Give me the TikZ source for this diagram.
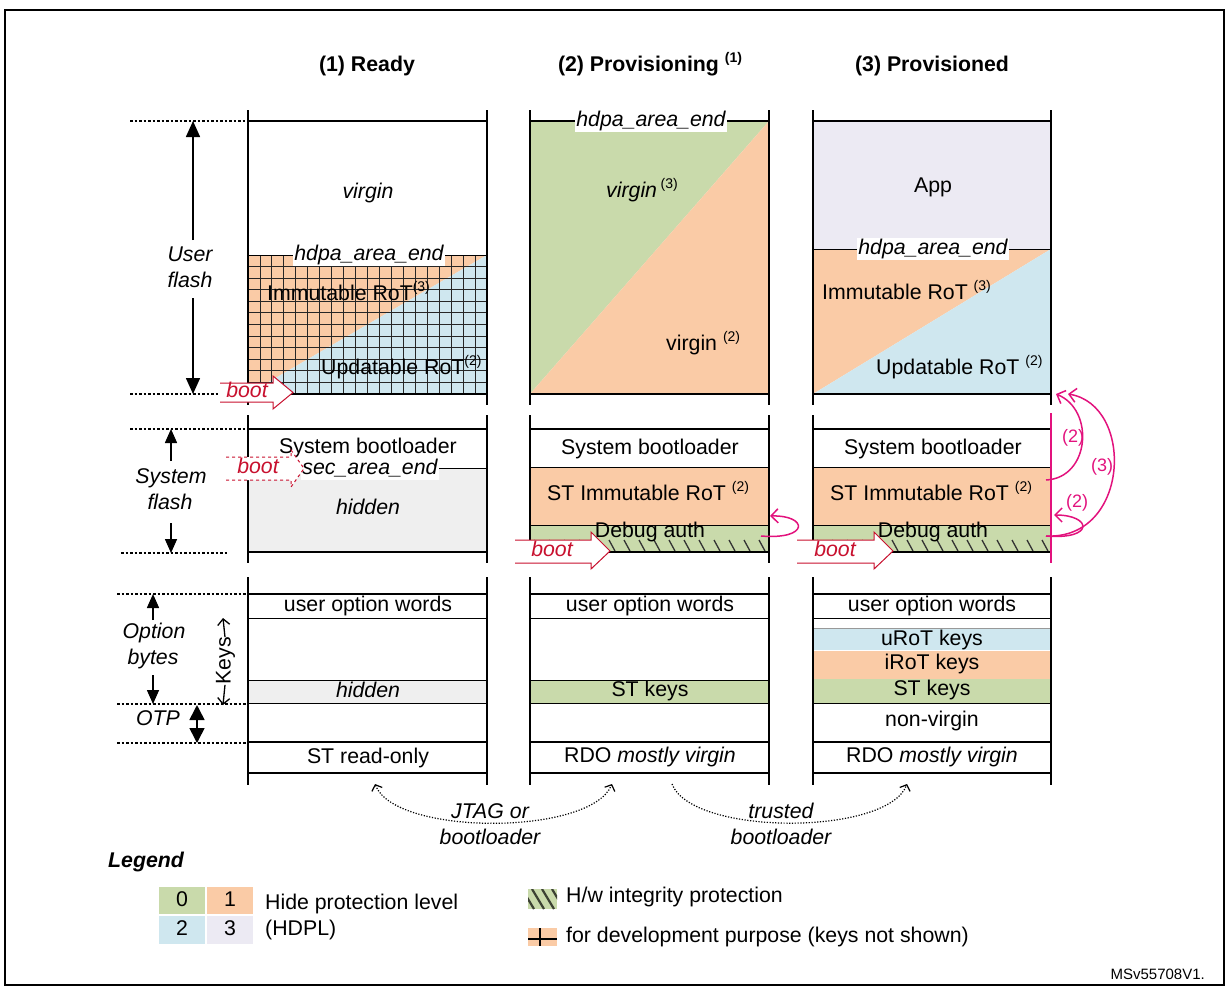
\documentclass[tikz,border=0pt]{standalone}
\usepackage{fontspec}
\setmainfont{Liberation Sans}
\usetikzlibrary{arrows.meta}
\definecolor{cgreen}{RGB}{201,218,171}
\definecolor{corange}{RGB}{250,203,166}
\definecolor{cblue}{RGB}{207,231,239}
\definecolor{clav}{RGB}{236,234,243}
\definecolor{cgray}{RGB}{239,239,239}
\definecolor{cred}{RGB}{200,16,46}
\definecolor{cmag}{RGB}{226,18,125}
\newcommand\supx[1]{\raisebox{0.42em}{\fontsize{14}{14}\upshape\selectfont #1}}
\begin{document}
\begin{tikzpicture}[x=1pt,y=-1pt,
  tx/.style={font=\fontsize{21.3}{25}\selectfont, inner sep=1pt, text height=15pt, text depth=4pt},
  txi/.style={tx, font=\fontsize{21.3}{25}\selectfont\itshape},
  hdr/.style={tx, font=\fontsize{21.3}{25}\selectfont\bfseries},
  whitelbl/.style={txi, fill=white, inner sep=1.5pt},
  bootlbl/.style={txi, text=cred},
  magl/.style={font=\fontsize{18}{20}\selectfont, text=cmag, inner sep=0pt},
  colline/.style={line width=1.8pt},
  secline/.style={line width=1.6pt},
  rowline/.style={line width=0.9pt},
  gridline/.style={line width=0.9pt, black!85},
  dotl/.style={line width=1.3pt, dash pattern=on 2.5pt off 2pt},
  bootarr/.style={draw=cred, fill=white, line width=1pt},
  magarr/.style={draw=cmag, line width=1.5pt, -{Straight Barb[length=7pt,width=14pt]}},
  bigarrow/.style={line width=1.6pt, -{Triangle[length=16pt,width=14pt]}},
  medarrow/.style={line width=1.6pt, -{Triangle[length=14pt,width=12pt]}},
  keyarrow/.style={line width=1.3pt, -{Straight Barb[length=6pt,width=12pt]}},
  transit/.style={line width=1.2pt, dash pattern=on 1.2pt off 1.6pt},
  hatchl/.style={line width=1.3pt, black!80},
]
\useasboundingbox (0,0) rectangle (1227,988);
\draw[line width=1.5pt] (5,10) rectangle (1224,985);

% ---------- headers
\node[hdr] (h1) at (367,66) {(1) Ready};
\node[hdr] (h2) at (650,66) {(2) Provisioning \supx{(1)}};
\node[hdr] (h3) at (932,66) {(3) Provisioned};

% ---------- user flash fills
\fill[corange] (248,255) -- (487,255) -- (248,394) -- cycle;
\fill[cblue] (487,255) -- (487,394) -- (248,394) -- cycle;
\begin{scope}
\clip (248,255) rectangle (487,394);
\foreach \i in {1,...,19} \draw[gridline] ({248+\i*11.95},255) -- ({248+\i*11.95},394);
\foreach \j in {1,...,11} \draw[gridline] (248,{255+\j*11.58}) -- (487,{255+\j*11.58});
\end{scope}
\fill[cgreen] (530,121) -- (769,121) -- (530,394) -- cycle;
\fill[corange] (769,121) -- (769,394) -- (530,394) -- cycle;
\fill[clav] (813,121) rectangle (1051,249);
\fill[corange] (813,249) -- (1051,249) -- (813,394) -- cycle;
\fill[cblue] (1051,249) -- (1051,394) -- (813,394) -- cycle;

% ---------- system flash fills
\fill[cgray] (248,468) rectangle (487,552);
\foreach \L/\R in {530/769,813/1051}{
  \fill[corange] (\L,467) rectangle (\R,525);
  \fill[cgreen] (\L,525) rectangle (\R,552);
  \begin{scope}
  \clip (\L,525) rectangle (\R,552);
  \foreach \k in {0,...,16} \draw[hatchl] ({\L+4+\k*15},540) -- ({\L+10+\k*15},551);
  \end{scope}
}

% ---------- option bytes fills
\fill[cgray] (248,680) rectangle (487,703);
\fill[cgreen] (530,680) rectangle (769,703);
\fill[cblue] (813,628) rectangle (1051,649.5);
\fill[corange] (813,650.5) rectangle (1051,679);
\fill[cgreen] (813,679) rectangle (1051,703);
\draw[line width=0.6pt, black!40] (813,628) -- (1051,628);

% ---------- horizontal lines
\foreach \L/\R in {248/487,530/769,813/1051}{
  \draw[secline] (\L,121) -- (\R,121);
  \draw[secline] (\L,394) -- (\R,394);
  \draw[secline] (\L,429) -- (\R,429);
  \draw[secline] (\L,552) -- (\R,552);
  \draw[secline] (\L,594) -- (\R,594);
  \draw[rowline] (\L,618) -- (\R,618);
  \draw[rowline] (\L,703) -- (\R,703);
  \draw[secline] (\L,742) -- (\R,742);
  \draw[secline] (\L,773) -- (\R,773);
}
\draw[rowline] (248,255) -- (487,255);
\draw[rowline] (813,249) -- (1051,249);
\draw[rowline] (248,468) -- (487,468);
\draw[rowline] (248,680) -- (487,680);
\draw[rowline] (530,680) -- (769,680);
\foreach \L/\R in {530/769,813/1051}{
  \draw[rowline] (\L,467) -- (\R,467);
  \draw[rowline] (\L,525) -- (\R,525);
}

% ---------- vertical column lines
\foreach \L/\R in {248/487,530/769,813/1051}{
  \draw[colline] (\L,110) -- (\L,405);
  \draw[colline] (\R,110) -- (\R,405);
  \draw[colline] (\L,415) -- (\L,563);
  \draw[colline] (\L,577) -- (\L,785);
  \draw[colline] (\R,577) -- (\R,785);
}
\draw[colline] (487,415) -- (487,563);
\draw[colline] (769,415) -- (769,563);
\draw[cmag, line width=1.6pt] (1051,413) -- (1051,563);

% ---------- user flash texts
\node[txi] (c1virgin) at (368,193) {virgin};
\node[whitelbl] (c1hdpa) at (369,255) {hdpa\_area\_end};
\node[tx, anchor=west] (c1irot) at (266,295) {Immutable RoT\supx{(3)}};
\node[tx, anchor=west] (c1urot) at (320,369) {Updatable RoT\supx{(2)}};
\node[whitelbl] (c2hdpa) at (651,121) {hdpa\_area\_end};
\node[txi, anchor=west] (c2v3) at (605,192) {virgin\,\supx{(3)}};
\node[tx, anchor=west] (c2v2) at (665,345) {virgin \supx{(2)}};
\node[tx] (c3app) at (933,187) {App};
\node[whitelbl] (c3hdpa) at (933,249) {hdpa\_area\_end};
\node[tx, anchor=west] (c3irot) at (821,294) {Immutable RoT \supx{(3)}};
\node[tx, anchor=west] (c3urot) at (875,369) {Updatable RoT \supx{(2)}};

% ---------- system flash texts
\node[tx] (c1sb) at (368,448) {System bootloader};
\node[whitelbl] (c1sec) at (370,469) {sec\_area\_end};
\node[txi] (c1hid) at (368,509) {hidden};
\node[tx] (c2sb) at (650,449) {System bootloader};
\node[tx, anchor=west] (c2st) at (546,495) {ST Immutable RoT \supx{(2)}};
\node[tx] (c2dbg) at (650,532) {Debug auth};
\node[tx] (c3sb) at (933,449) {System bootloader};
\node[tx, anchor=west] (c3st) at (829,495) {ST Immutable RoT \supx{(2)}};
\node[tx] (c3dbg) at (933,532) {Debug auth};

% ---------- option bytes texts
\node[tx] (c1uow) at (368,606) {user option words};
\node[txi] (c1hk) at (368,692) {hidden};
\node[tx] (c1ro) at (368,758) {ST read-only};
\node[tx] (c2uow) at (650,606) {user option words};
\node[tx] (c2st2) at (650,691) {ST keys};
\node[tx] (c2rdo) at (650,757) {RDO \textit{mostly virgin}};
\node[tx] (c3uow) at (932,606) {user option words};
\node[tx] (c3u) at (932,640) {uRoT keys};
\node[tx] (c3i) at (932,664) {iRoT keys};
\node[tx] (c3s) at (932,690) {ST keys};
\node[tx] (c3nv) at (932,721) {non-virgin};
\node[tx] (c3rdo) at (932,757) {RDO \textit{mostly virgin}};

% ---------- left annotations
\draw[dotl] (130,121) -- (248,121);
\draw[dotl] (130,394) -- (220,394);
\draw[dotl] (130,429) -- (248,429);
\draw[dotl] (121,553) -- (228,553);
\draw[dotl] (117,594) -- (248,594);
\draw[dotl] (117,704) -- (248,704);
\draw[dotl] (117,743) -- (248,743);
\node[txi] (uf1) at (190,256) {User};
\node[txi] (uf2) at (190,282) {flash};
\draw[bigarrow] (193,240) -- (193,121);
\draw[bigarrow] (193,298) -- (193,394);
\node[txi] (sf1) at (171,478) {System};
\node[txi] (sf2) at (170,504) {flash};
\draw[medarrow] (171,461) -- (171,429);
\draw[medarrow] (171,523) -- (171,553);
\node[txi] (ob1) at (154,633) {Option};
\node[txi] (ob2) at (153,659) {bytes};
\draw[medarrow] (153,620) -- (153,594);
\draw[medarrow] (153,675) -- (153,704);
\node[txi] (otp) at (158,720) {OTP};
\draw[line width=1.6pt, {Triangle[length=15pt,width=15pt]}-{Triangle[length=15pt,width=15pt]}] (197,705) -- (197,743);
\node[tx, rotate=90, inner sep=0pt] (keys) at (225,661) {Keys};
\coordinate (ktop) at (223,618);
\coordinate (kbot) at (223,705);
\draw[keyarrow] (keys.east) -- (ktop);
\draw[keyarrow] (keys.west) -- (kbot);

% ---------- boot arrows
\draw[bootarr] (220,383) -- (273,383) -- (273,376) -- (293,392.5) -- (273,409) -- (273,402) -- (220,402);
\node[bootlbl] (b1) at (247,392) {boot};
\draw[bootarr, dashed] (226,457) -- (291,457) -- (291,450) -- (304,468.5) -- (291,487) -- (291,480) -- (226,480);
\node[bootlbl] (b2) at (258,468) {boot};
\draw[bootarr] (515,540) -- (591,540) -- (591,532) -- (610,551) -- (591,569) -- (591,563) -- (515,563);
\node[bootlbl] (b3) at (552,551) {boot};
\draw[bootarr] (797,540) -- (874,540) -- (874,532) -- (893,551) -- (874,569) -- (874,563) -- (797,563);
\node[bootlbl] (b4) at (835,551) {boot};

% ---------- magenta arrows
\coordinate (m2s) at (761,536);
\coordinate (m2e) at (770,516);
\draw[magarr] (m2s) .. controls (810,540) and (808,515) .. (m2e);
\coordinate (m3a) at (1046,480);
\coordinate (m3b) at (1046,536);
\coordinate (m3t1) at (1056,394);
\coordinate (m3t2) at (1068,394);
\coordinate (m3t3) at (1054,515);
\draw[magarr] (m3a) .. controls (1090,478) and (1095,410) .. (m3t1);
\draw[magarr] (m3b) .. controls (1130,540) and (1135,405) .. (m3t2);
\draw[magarr] (m3b) .. controls (1095,540) and (1092,515) .. (m3t3);
\node[magl] (ml1) at (1073,438) {(2)};
\node[magl] (ml2) at (1102,467) {(3)};
\node[magl] (ml3) at (1077,503) {(2)};

% ---------- transitions
\coordinate (j1) at (375,784);
\coordinate (j2) at (612,784);
\coordinate (t1) at (672,784);
\coordinate (t2) at (907,784);
\draw[transit, {Straight Barb[length=5pt,width=11pt]}-{Straight Barb[length=5pt,width=11pt]}] (j1) .. controls (395,836) and (590,836) .. (j2);
\draw[transit, -{Straight Barb[length=5pt,width=11pt]}] (t1) .. controls (692,836) and (887,836) .. (t2);
\node[txi] (jt1) at (490,813) {JTAG or};
\node[txi] (jt2) at (490,839) {bootloader};
\node[txi] (tr1) at (781,813) {trusted};
\node[txi] (tr2) at (781,839) {bootloader};

% ---------- legend
\node[tx, font=\fontsize{21.3}{25}\selectfont\bfseries\itshape, anchor=west] (leg) at (107,862) {Legend};
\fill[cgreen] (159,887) rectangle (205,914);
\fill[corange] (207,887) rectangle (253,914);
\fill[cblue] (159,916) rectangle (205,944);
\fill[clav] (207,916) rectangle (253,944);
\node[tx] (l0) at (182,901) {0};
\node[tx] (l1) at (230,901) {1};
\node[tx] (l2) at (182,930) {2};
\node[tx] (l3) at (230,930) {3};
\node[tx, anchor=west] (lh1) at (264,904) {Hide protection level};
\node[tx, anchor=west] (lh2) at (264,930) {(HDPL)};
\fill[cgreen] (528,889) rectangle (557,909);
\begin{scope}
\clip (528,889) rectangle (557,909);
\foreach \k in {0,1,2,3} \draw[line width=2.2pt, black!70!cgreen] ({522+\k*10},889) -- ({534+\k*10},909);
\end{scope}
\node[tx, anchor=west] (lhw) at (565,897) {H/w integrity protection};
\fill[corange] (528,928) rectangle (557,946);
\draw[line width=1.2pt] (540,928) -- (540,946);
\draw[line width=1.2pt] (528,939) -- (557,939);
\node[tx, anchor=west] (ldev) at (565,937) {for development purpose (keys not shown)};
\node[font=\fontsize{15}{18}\selectfont, anchor=east, inner sep=0pt] (ref) at (1205,974) {MSv55708V1.};
\end{tikzpicture}
\end{document}
